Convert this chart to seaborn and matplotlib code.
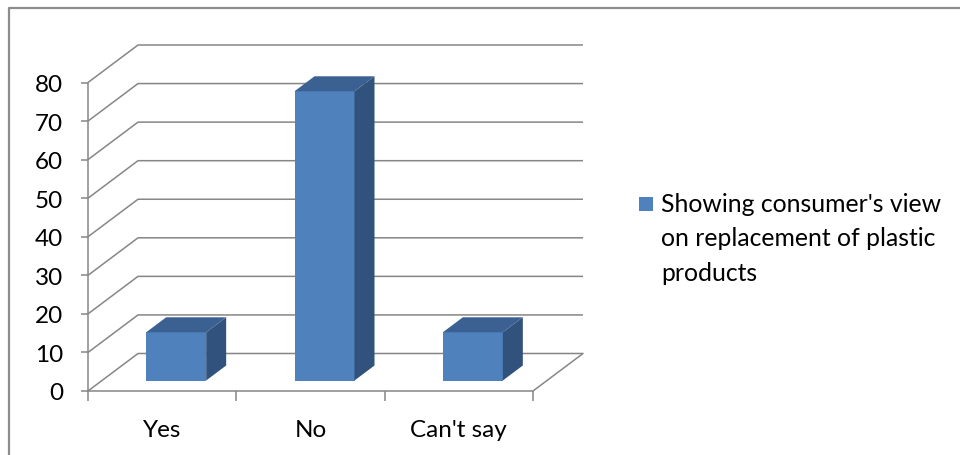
import matplotlib
matplotlib.use("Agg")
import matplotlib.pyplot as plt
from matplotlib.patches import Polygon, Rectangle
from matplotlib.lines import Line2D
import seaborn as sns
import pandas as pd

# Survey answers and share of respondents (%)
categories = ["Yes", "No", "Can't say"]
values = [12.5, 75, 12.5]
y_ticks = [0, 10, 20, 30, 40, 50, 60, 70, 80]
series_name = "Showing consumer's view\non replacement of plastic\nproducts"

FRONT = "#4F81BD"
SIDE = "#31527C"
TOP = "#3A6191"
GRID = "#868686"
FONT = "Lato"

sns.set_theme(style="white")
plt.rcParams["font.family"] = [FONT, "DejaVu Sans"]

W, H, DPI = 960, 456, 100
fig = plt.figure(figsize=(W / DPI, H / DPI), dpi=DPI)

# geometry of the oblique projection, in pixels
x_left, x_right_front, y_floor = 88, 533, 392
y_top_front = 83.5
depth_px = (50, 37.5)
cat_px = (x_right_front - x_left) / len(categories)
unit_px = (y_floor - y_top_front) / y_ticks[-1]
ddx = depth_px[0] / cat_px
ddy = depth_px[1] / unit_px

xmin, xmax = -0.5, len(categories) - 0.5 + ddx
ymin, ymax = 0, y_ticks[-1] + ddy
ax_w = (xmax - xmin) * cat_px
ax_h = (ymax - ymin) * unit_px
ax = fig.add_axes([x_left / W, (H - y_floor) / H, ax_w / W, ax_h / H])
ax.set_xlim(xmin, xmax)
ax.set_ylim(ymin, ymax)

df = pd.DataFrame({"answer": categories, "share": values})
bar_w = 60 / cat_px
sns.barplot(data=df, x="answer", y="share", color=FRONT, width=bar_w,
            saturation=1, ax=ax, zorder=3, linewidth=0)
ax.set_xlim(xmin, xmax)
ax.set_ylim(ymin, ymax)

# walls and floor
lw = 1.1
for v in y_ticks:
    ax.plot([xmin, xmin + ddx, len(categories) - 0.5 + ddx], [v, v + ddy, v + ddy],
            color=GRID, lw=lw, zorder=1, clip_on=False, solid_capstyle="butt")
ax.plot([len(categories) - 0.5, len(categories) - 0.5 + ddx], [0, ddy],
        color=GRID, lw=lw, zorder=1, clip_on=False)

# 3D boxes: front face pushed into the depth, plus side and top faces
f0, fd = 0.28, 0.4
ox, oy = f0 * ddx, f0 * ddy
bx, by = fd * ddx, fd * ddy
for p in ax.patches[:len(values)]:
    x0 = p.get_x() + ox
    x1 = x0 + p.get_width()
    y0 = oy
    y1 = p.get_height() + oy
    p.set_x(x0)
    p.set_y(y0)
    ax.add_patch(Polygon([(x1, y0), (x1 + bx, y0 + by), (x1 + bx, y1 + by), (x1, y1)],
                         closed=True, facecolor=SIDE, edgecolor="none", zorder=3))
    ax.add_patch(Polygon([(x0, y1), (x1, y1), (x1 + bx, y1 + by), (x0 + bx, y1 + by)],
                         closed=True, facecolor=TOP, edgecolor="none", zorder=3))

# axes lines and ticks
for s in ["top", "right"]:
    ax.spines[s].set_visible(False)
ax.spines["left"].set_bounds(0, y_ticks[-1])
ax.spines["bottom"].set_bounds(-0.5, len(categories) - 0.5)
for s in ["left", "bottom"]:
    ax.spines[s].set_color(GRID)
    ax.spines[s].set_linewidth(lw)
    ax.spines[s].set_zorder(2)
ax.set_yticks(y_ticks)
ax.set_yticklabels([str(t) for t in y_ticks])
ax.set_xticks(range(len(categories)))
ax.set_xticklabels(categories)
ax.set_xticks([i - 0.5 for i in range(len(categories) + 1)], minor=True)
ax.tick_params(axis="y", which="major", left=True, length=5, width=lw, color=GRID,
               labelsize=17.5, labelcolor="black", pad=13)
ax.tick_params(axis="x", which="major", bottom=False, labelsize=17.5,
               labelcolor="black", pad=14)
ax.tick_params(axis="x", which="minor", bottom=True, length=7, width=lw, color=GRID)
ax.set_xlabel("")
ax.set_ylabel("")
ax.grid(False)
ax.patch.set_alpha(0)

# legend
fig.patches.append(Rectangle((639 / W, 1 - 212 / H), 14 / W, 14 / H,
                             transform=fig.transFigure, facecolor=FRONT,
                             edgecolor="none"))
fig.text(661 / W, 1 - 193 / H, series_name, ha="left", va="top", fontsize=17.8,
         color="black", linespacing=1.6)

# chart frame
fig.add_artist(Line2D([9 / W, 9 / W, 1.01], [-0.01, 1 - 9 / H, 1 - 9 / H],
                      transform=fig.transFigure, color="#8C8C8C", lw=1.6))

fig.savefig("out.png", dpi=DPI)
